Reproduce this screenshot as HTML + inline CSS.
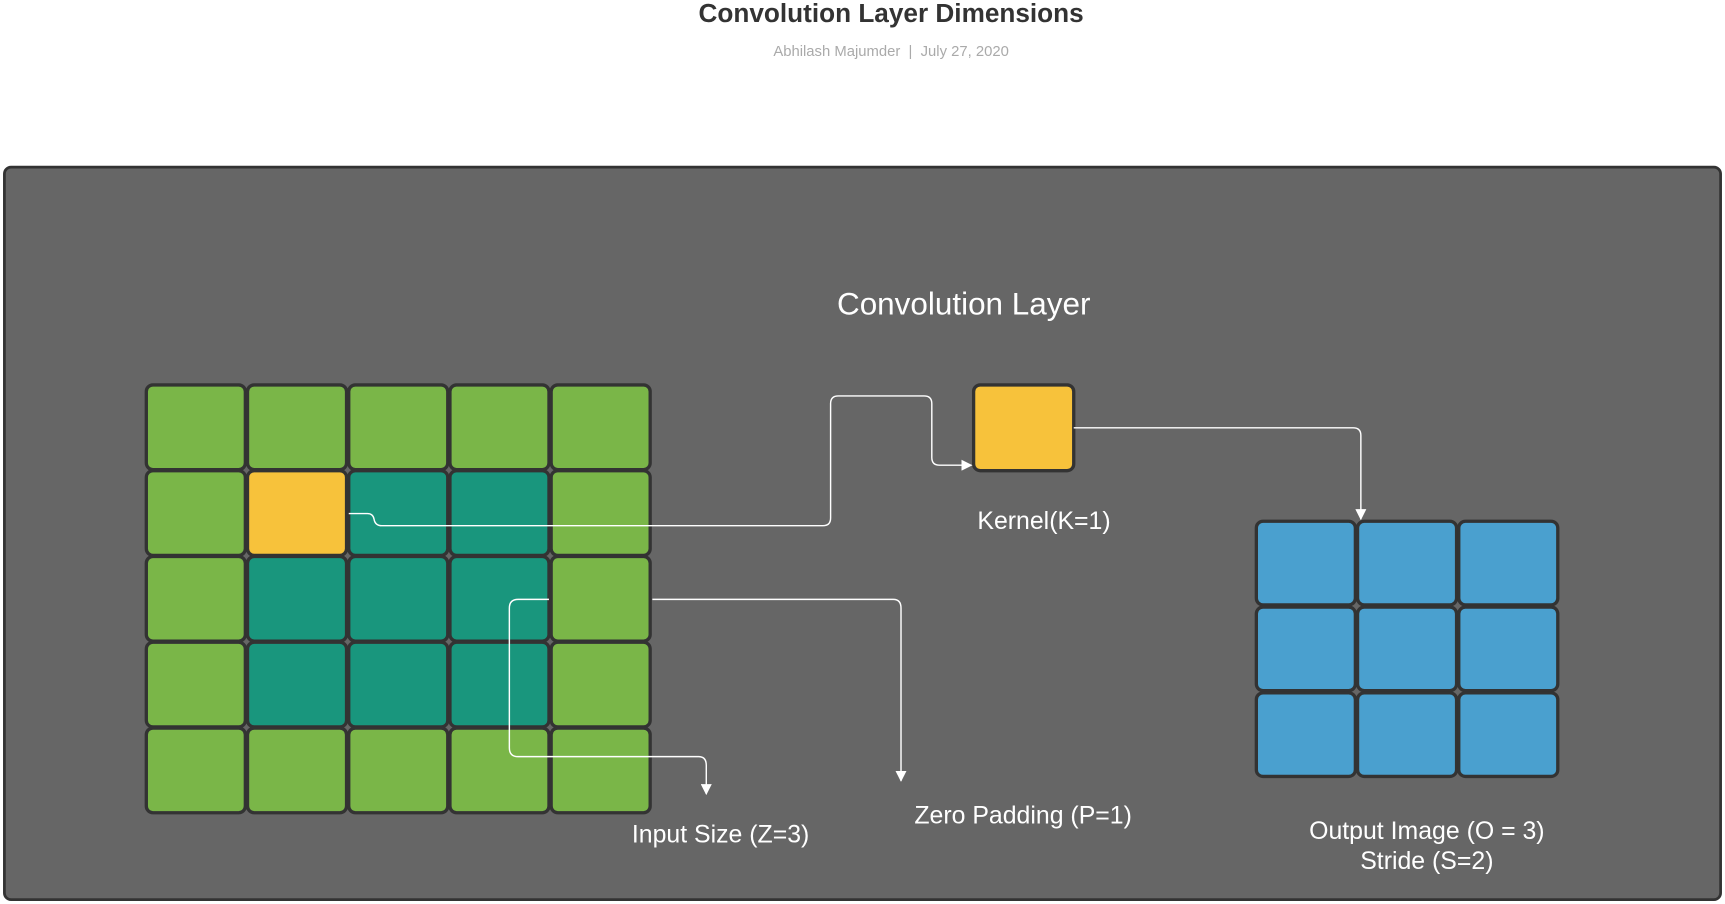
<!DOCTYPE html>
<html><head><meta charset="utf-8"><style>
html,body{margin:0;padding:0;background:#fff;width:1725px;height:904px;overflow:hidden}
svg{display:block;font-family:"Liberation Sans",sans-serif}
</style></head><body>
<svg width="1725" height="904" viewBox="0 0 1568 822" preserveAspectRatio="none">
<defs><marker id="ah" markerWidth="10" markerHeight="10" refX="9" refY="5" orient="auto" markerUnits="userSpaceOnUse"><path d="M0,0 L10,5 L0,10 z" fill="#fff"/></marker></defs>
<text x="810" y="20" text-anchor="middle" font-size="23.8" font-weight="bold" fill="#333">Convolution Layer Dimensions</text>
<text x="810" y="51" text-anchor="middle" font-size="13.5" fill="#aaa" xml:space="preserve">Abhilash Majumder  |  July 27, 2020</text>
<rect x="4" y="152" width="1560" height="666" rx="6" fill="#666" stroke="#333" stroke-width="2.5"/>
<text x="876" y="286" text-anchor="middle" font-size="28.6" fill="#fff">Convolution Layer</text>
<g id="input-grid"></g>
<rect x="885" y="350" width="91" height="78" rx="6" fill="#f7c23b" stroke="#333" stroke-width="3"/>
<g id="output-grid"></g>
<g fill="none" stroke="#fff" stroke-width="1.3">
<path d="M317,467 H334 Q339,467 340,472 Q341,478 347,478 H748 Q755,478 755,471 V367 Q755,360 762,360 H840 Q847,360 847,367 V416 Q847,423 854,423 H883" marker-end="url(#ah)"/>
<path d="M976,389 H1230 Q1237,389 1237,396 V472" marker-end="url(#ah)"/>
<path d="M499,545 H471 Q463,545 463,553 V680 Q463,688 471,688 H635 Q642,688 642,696 V722" marker-end="url(#ah)"/>
<path d="M593,545 H812 Q819,545 819,553 V710" marker-end="url(#ah)"/>
</g>
<g font-size="22.6" fill="#fff" text-anchor="middle">
<text x="949" y="481">Kernel(K=1)</text>
<text x="655" y="766">Input Size (Z=3)</text>
<text x="930" y="749">Zero Padding (P=1)</text>
<text x="1297" y="763">Output Image (O = 3)</text>
<text x="1297" y="790">Stride (S=2)</text>
</g>
</svg>
<script>
const NS="http://www.w3.org/2000/svg";
const inputCells=[
"GGGGG",
"GYTTG",
"GTTTG",
"GTTTG",
"GGGGG"];
const colors={G:"#7ab648",T:"#19967d",Y:"#f7c23b",B:"#4aa0cf"};
const ig=document.getElementById('input-grid');
inputCells.forEach((row,r)=>{[...row].forEach((c,k)=>{
 const el=document.createElementNS(NS,'rect');
 el.setAttribute('x',133+k*92);el.setAttribute('y',350+r*78);
 el.setAttribute('width',90);el.setAttribute('height',77);el.setAttribute('rx',6);
 el.setAttribute('fill',colors[c]);el.setAttribute('stroke','#333');el.setAttribute('stroke-width',3);
 
 
 ig.appendChild(el);});});
const og=document.getElementById('output-grid');
for(let r=0;r<3;r++)for(let k=0;k<3;k++){
 const el=document.createElementNS(NS,'rect');
 el.setAttribute('x',1142+k*92);el.setAttribute('y',474+r*78);
 el.setAttribute('width',90);el.setAttribute('height',76);el.setAttribute('rx',6);
 el.setAttribute('fill',colors.B);el.setAttribute('stroke','#333');el.setAttribute('stroke-width',3);
 
 
 og.appendChild(el);}
</script>
</body></html>
